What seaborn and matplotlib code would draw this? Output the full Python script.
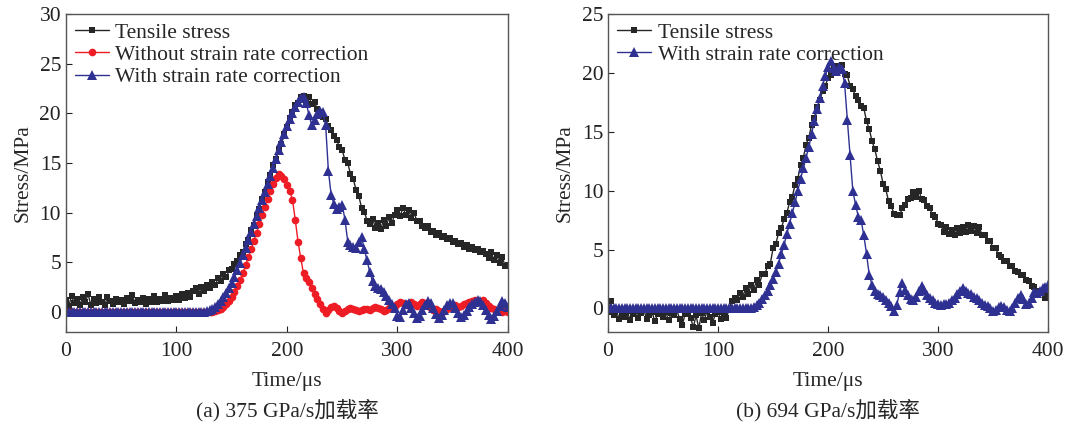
import numpy as np
import matplotlib
matplotlib.use("Agg")
import matplotlib.pyplot as plt
import seaborn as sns

# sampling grid, us
time_us = np.linspace(0, 400, 161)

# (a) 375 GPa/s
a_tensile = [
    1.2, 0.6, 1.6, 0.9, 1.3, 0.7, 1.5, 1.0, 1.8, 0.7,
    1.3, 0.9, 1.5, 1.0, 0.7, 1.5, 1.1, 0.8, 1.3, 1.0,
    1.2, 0.8, 1.4, 1.1, 1.7, 0.9, 1.2, 1.0, 1.4, 0.8,
    1.3, 1.0, 1.6, 1.0, 1.3, 1.1, 1.7, 1.1, 1.4, 1.2,
    1.6, 1.2, 1.8, 1.4, 1.9, 1.5, 2.1, 2.4, 1.8, 2.5,
    2.1, 2.7, 2.4, 3.0, 2.7, 3.4, 3.1, 3.8, 3.5, 4.2,
    4.3, 4.8, 5.1, 5.7, 6.0, 6.9, 7.3, 8.3, 8.8, 9.8,
    10.4, 11.4, 12.1, 13.1, 13.8, 14.8, 15.4, 16.4, 16.9, 17.9,
    18.6, 19.5, 20.1, 20.8, 21.0, 21.6, 21.7, 21.2, 21.6, 20.9,
    21.1, 20.4, 20.1, 19.6, 19.4, 18.7, 18.3, 17.7, 17.3, 16.6,
    16.3, 15.3, 15.0, 13.9, 13.4, 12.3, 11.7, 10.5, 10.1, 9.2,
    8.9, 9.4, 8.5, 9.0, 8.4, 9.3, 8.7, 9.6, 9.0, 9.8,
    10.3, 9.7, 10.5, 9.8, 10.3, 9.5, 10.0, 9.2, 9.2, 8.7,
    8.5, 8.7, 8.1, 8.2, 7.8, 8.0, 7.6, 7.7, 7.4, 7.5,
    7.1, 7.2, 6.9, 7.0, 6.6, 6.8, 6.4, 6.6, 6.2, 6.3,
    6.0, 6.1, 5.8, 5.4, 6.0, 5.2, 5.7, 4.9, 5.5, 4.6,
    4.7,
]
a_without = [0.0] * 50 + [
    0.0, 0.0, 0.0, 0.05, 0.1, 0.2, 0.35, 0.55, 0.8, 1.1,
    1.5, 2.0, 2.6, 3.2, 3.9, 4.7, 5.5, 6.3, 7.2, 8.0,
    8.9, 9.8, 10.6, 11.4, 12.2, 12.9, 13.5, 13.9, 13.7, 13.4,
    12.8, 12.2, 11.3, 9.3, 7.1, 5.4, 3.9, 3.4, 3.0, 2.4,
    1.8, 1.3, 0.8, 0.3, -0.1, 0.2, 0.5, 0.6, 0.4, 0.1,
    -0.1, 0.1, 0.3, 0.4, 0.3, 0.2, 0.1, 0.2, 0.3, 0.3,
    0.2, 0.4, 0.5, 0.4, 0.3, 0.1, 0.2, 0.4, 0.5, 0.6,
    0.8, 1.0, 0.9, 0.7, 0.9, 1.0, 0.8, 0.6, 0.8, 1.0,
    0.9, 0.6, 0.4, 0.2, 0.3, 0.1, 0.0, 0.1, 0.3, 0.5,
    0.6, 0.7, 0.5, 0.6, 0.8, 0.9, 1.0, 1.1, 1.2, 1.1,
    1.0, 1.2, 0.9, 0.6, 0.4, 0.3, 0.1, 0.2, 0.0, 0.1,
    0.0,
]
a_with = [0.0] * 50 + [
    0.05, 0.1, 0.2, 0.35, 0.55, 0.8, 1.1, 1.5, 1.9, 2.4,
    2.9, 3.5, 4.2, 4.9, 5.7, 6.5, 7.3, 8.1, 8.9, 9.7,
    10.5, 11.3, 12.1, 12.9, 13.7, 14.5, 15.4, 16.3, 17.1, 17.9,
    18.7, 19.4, 20.0, 20.6, 21.1, 21.5, 21.6, 21.0, 19.8, 18.8,
    19.3, 19.9, 20.2, 20.1, 18.8, 14.2, 11.8, 10.9, 10.4, 10.6,
    10.8, 9.3, 7.1, 6.8, 6.6, 6.5, 7.1, 7.6, 6.3, 5.2,
    4.0, 3.1, 2.6, 2.4, 2.3, 2.0, 1.6, 1.2, 0.8, 0.4,
    -0.4, -0.5, 0.2, 0.8, 0.9, 0.4, -0.1, -0.6, -0.4, 0.2,
    0.7, 1.1, 0.9, 0.4, -0.2, -0.6, -0.3, 0.2, 0.7, 0.9,
    0.9, 0.4, -0.1, -0.5, -0.3, 0.1, 0.5, 0.8, 1.0, 1.2,
    1.1, 0.7, 0.2, -0.3, -0.7, -0.4, 0.1, 0.6, 1.1, 0.9,
    0.5,
]

# (b) 694 GPa/s
b_tensile = [
    -0.3, 0.6, -0.6, -0.1, -0.9, -0.4, -0.7, -0.2, -1.0, -0.5,
    -0.2, -0.8, -0.4, -0.1, -0.9, -0.6, -0.3, -1.1, -0.5, -0.2,
    -0.7, -0.3, -1.0, -0.4, -0.6, -0.1, -0.9, -1.4, -0.5, -0.3,
    -0.8, -1.6, -0.6, -1.7, -0.4, -1.0, -0.2, -0.7, -1.2, -0.5,
    -0.3, -0.9, -0.4, -0.8, -0.1, 0.6, 0.9, 0.7, 1.3, 1.0,
    1.7, 1.2, 2.0, 1.6, 2.4, 2.0, 2.9, 2.9, 3.6, 3.8,
    5.1, 5.5, 6.4, 6.8, 7.6, 8.1, 9.0, 9.5, 10.5, 11.0,
    12.2, 12.8, 13.9, 14.5, 15.6, 16.2, 17.1, 17.7, 18.5, 18.9,
    19.6, 19.8, 20.4, 20.6, 20.3, 20.7, 19.9, 19.8, 18.9, 18.6,
    18.0, 17.7, 17.2, 17.0, 15.9, 15.2, 14.2, 13.5, 12.5, 11.7,
    10.6, 10.1, 9.1, 8.7, 8.0, 7.9, 7.9, 8.5, 8.8, 9.3,
    9.4, 9.9, 9.5, 10.0, 9.3, 9.2, 8.7, 8.5, 7.9, 7.8,
    7.2, 7.1, 6.5, 6.9, 6.3, 6.7, 6.2, 6.8, 6.4, 6.9,
    6.5, 7.1, 6.6, 7.0, 6.4, 6.9, 6.2, 6.2, 5.7, 5.7,
    5.1, 5.1, 4.5, 4.4, 4.0, 4.0, 3.6, 3.6, 3.2, 3.1,
    2.8, 2.8, 2.4, 2.3, 1.9, 1.8, 1.5, 1.4, 1.5, 0.9,
    1.1,
]
b_with = [0.0] * 50 + [
    0.0, 0.02, 0.05, 0.15, 0.3, 0.5, 0.8, 1.1, 1.5, 2.0,
    2.5, 3.1, 3.8, 4.6, 5.4, 6.3, 7.2, 8.1, 9.0, 10.0,
    11.0, 11.9, 12.8, 13.7, 14.8, 15.9, 16.9, 17.9, 18.9, 19.7,
    20.5, 21.0, 20.4, 20.2, 20.5, 20.3, 19.1, 16.0, 13.0, 10.0,
    8.8, 7.8, 7.5, 6.2, 4.6, 2.8, 2.0, 1.5, 1.2, 1.1,
    1.0, 0.7, 0.5, 0.2, -0.2, 0.3, 1.4, 2.2, 1.6, 1.1,
    0.8, 0.7, 1.0, 1.5, 1.9, 1.6, 1.1, 0.9, 0.7, 0.5,
    0.4, 0.3, 0.4, 0.4, 0.5, 0.7, 0.9, 1.2, 1.5, 1.7,
    1.5, 1.3, 1.2, 1.0, 0.9, 0.7, 0.5, 0.3, 0.2, 0.0,
    -0.2, -0.1, 0.1, 0.2, 0.1, -0.1, -0.2, 0.0, 0.5, 0.9,
    1.1, 0.8, 0.4, 0.5, 0.9, 1.4, 1.3, 1.5, 1.7, 1.8,
    2.0,
]

BLACK = "#262626"
RED = "#ee1c25"
BLUE = "#2e3192"

sns.set_style("ticks")
plt.rcParams["font.family"] = ["Liberation Serif", "Noto Sans CJK SC"]

fig = plt.figure(figsize=(10.66, 4.26), dpi=100)
ax1 = fig.add_axes([0.0619, 0.2207, 0.4146, 0.7465])
ax2 = fig.add_axes([0.5704, 0.2207, 0.4128, 0.7465])


def draw(ax, y, color, marker, ms, label):
    sns.lineplot(x=time_us, y=y, ax=ax, color=color, marker=marker,
                 markersize=ms, markeredgewidth=0, linewidth=1.0,
                 label=label, estimator=None, sort=False)


draw(ax1, a_tensile, BLACK, "s", 5, "Tensile stress")
draw(ax1, a_without, RED, "o", 5.5, "Without strain rate correction")
draw(ax1, a_with, BLUE, "^", 6.5, "With strain rate correction")

draw(ax2, b_tensile, BLACK, "s", 5, "Tensile stress")
draw(ax2, b_with, BLUE, "^", 6.5, "With strain rate correction")

FS = 15.5
for ax, ymax, cap in [(ax1, 30, "(a) 375 GPa/s加载率"),
                      (ax2, 25, "(b) 694 GPa/s加载率")]:
    ax.set_xlim(0, 400)
    ax.set_ylim(-2, ymax)
    ax.set_xticks([0, 100, 200, 300, 400])
    ax.set_yticks(np.arange(0, ymax + 1, 5))
    ax.tick_params(direction="in", length=4, width=0.8, labelsize=FS,
                   colors="#222222", top=False, right=False)
    ax.tick_params(axis="x", pad=7)
    for s in ax.spines.values():
        s.set_color("#555555")
        s.set_linewidth(1.0)
    ax.set_xlabel("Time/μs", fontsize=FS, labelpad=8)
    ax.set_ylabel("Stress/MPa", fontsize=FS, labelpad=5)
    ax.legend(loc="upper left", frameon=False, fontsize=FS,
              handlelength=1.6, handletextpad=0.3, labelspacing=0.1,
              borderaxespad=0.2, borderpad=0.2)
    pos = ax.get_position()
    fig.text((pos.x0 + pos.x1) / 2, 1 - 410 / 426, cap, ha="center",
             va="center", fontsize=FS)

fig.savefig("out.png", dpi=100)
